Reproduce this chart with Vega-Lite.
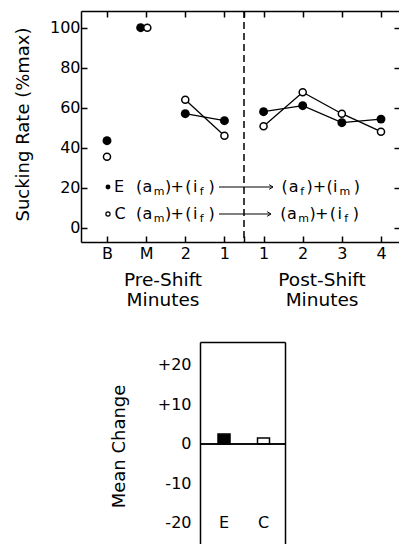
{
  "$schema": "https://vega.github.io/schema/vega-lite/v6.json",
  "padding": {"left": 13, "top": 10, "right": 0, "bottom": 0},
  "bounds": "flush",
  "spacing": 100,
  "config": {
    "font": "DejaVu Sans",
    "view": {"stroke": null},
    "axis": {
      "grid": false,
      "labelFont": "DejaVu Sans",
      "labelFontSize": 16,
      "labelColor": "black",
      "titleFont": "DejaVu Sans",
      "titleFontSize": 18,
      "titleFontWeight": "normal",
      "titleColor": "black",
      "domainColor": "black",
      "domainWidth": 1.5,
      "tickColor": "black",
      "tickWidth": 1.5,
      "labelOverlap": false,
      "labelFlush": false
    }
  },
  "datasets": {
    "main": [
      {"g": "E", "pos": 1, "v": 43.5, "ph": "B"},
      {"g": "E", "pos": 1.86, "v": 100, "ph": "M"},
      {"g": "E", "pos": 3, "v": 57, "ph": "pre"},
      {"g": "E", "pos": 4, "v": 53.5, "ph": "pre"},
      {"g": "E", "pos": 5, "v": 58, "ph": "post"},
      {"g": "E", "pos": 6, "v": 61, "ph": "post"},
      {"g": "E", "pos": 7, "v": 52.5, "ph": "post"},
      {"g": "E", "pos": 8, "v": 54.3, "ph": "post"},
      {"g": "C", "pos": 1, "v": 35.5, "ph": "B"},
      {"g": "C", "pos": 2.03, "v": 100, "ph": "M"},
      {"g": "C", "pos": 3, "v": 64, "ph": "pre"},
      {"g": "C", "pos": 4, "v": 46, "ph": "pre"},
      {"g": "C", "pos": 5, "v": 50.7, "ph": "post"},
      {"g": "C", "pos": 6, "v": 67.7, "ph": "post"},
      {"g": "C", "pos": 7, "v": 57, "ph": "post"},
      {"g": "C", "pos": 8, "v": 48, "ph": "post"}
    ],
    "bullets": [
      {"g": "E", "x": 1.025, "y": 20.35},
      {"g": "C", "x": 1.025, "y": 6.85}
    ],
    "glyphs": [
      {"x": 1.307, "y": 20.35, "t": "E", "sub": false},
      {"x": 1.818, "y": 20.35, "t": "(", "sub": false},
      {"x": 2.035, "y": 20.35, "t": "a", "sub": false},
      {"x": 2.331, "y": 20.35, "t": "m", "sub": true},
      {"x": 2.564, "y": 20.35, "t": ")", "sub": false},
      {"x": 2.796, "y": 20.35, "t": "+", "sub": false},
      {"x": 3.08, "y": 20.35, "t": "(", "sub": false},
      {"x": 3.253, "y": 20.35, "t": "i", "sub": false},
      {"x": 3.417, "y": 20.35, "t": "f", "sub": true},
      {"x": 3.67, "y": 20.35, "t": ")", "sub": false},
      {"x": 5.535, "y": 20.35, "t": "(", "sub": false},
      {"x": 5.77, "y": 20.35, "t": "a", "sub": false},
      {"x": 5.985, "y": 20.35, "t": "f", "sub": true},
      {"x": 6.174, "y": 20.35, "t": ")", "sub": false},
      {"x": 6.427, "y": 20.35, "t": "+", "sub": false},
      {"x": 6.687, "y": 20.35, "t": "(", "sub": false},
      {"x": 6.828, "y": 20.35, "t": "i", "sub": false},
      {"x": 7.08, "y": 20.35, "t": "m", "sub": true},
      {"x": 7.387, "y": 20.35, "t": ")", "sub": false},
      {"x": 1.332, "y": 6.85, "t": "C", "sub": false},
      {"x": 1.818, "y": 6.85, "t": "(", "sub": false},
      {"x": 2.035, "y": 6.85, "t": "a", "sub": false},
      {"x": 2.331, "y": 6.85, "t": "m", "sub": true},
      {"x": 2.564, "y": 6.85, "t": ")", "sub": false},
      {"x": 2.796, "y": 6.85, "t": "+", "sub": false},
      {"x": 3.08, "y": 6.85, "t": "(", "sub": false},
      {"x": 3.253, "y": 6.85, "t": "i", "sub": false},
      {"x": 3.417, "y": 6.85, "t": "f", "sub": true},
      {"x": 3.67, "y": 6.85, "t": ")", "sub": false},
      {"x": 5.509, "y": 6.85, "t": "(", "sub": false},
      {"x": 5.727, "y": 6.85, "t": "a", "sub": false},
      {"x": 6.023, "y": 6.85, "t": "m", "sub": true},
      {"x": 6.255, "y": 6.85, "t": ")", "sub": false},
      {"x": 6.488, "y": 6.85, "t": "+", "sub": false},
      {"x": 6.771, "y": 6.85, "t": "(", "sub": false},
      {"x": 6.945, "y": 6.85, "t": "i", "sub": false},
      {"x": 7.109, "y": 6.85, "t": "f", "sub": true},
      {"x": 7.36, "y": 6.85, "t": ")", "sub": false}
    ],
    "arrows": [
      {"x1": 3.862, "x2": 5.241, "y": 20.35},
      {"x1": 3.862, "x2": 5.19, "y": 6.85}
    ],
    "groups": [
      {"x": 2.431, "y": -25.9, "t": "Pre-Shift"},
      {"x": 2.431, "y": -36.1, "t": "Minutes"},
      {"x": 6.494, "y": -25.9, "t": "Post-Shift"},
      {"x": 6.494, "y": -36.1, "t": "Minutes"}
    ],
    "shift": [
      {"at": 4.5}
    ],
    "bars": [
      {"g": "E", "v": 2.5},
      {"g": "C", "v": 1.5}
    ]
  },
  "vconcat": [
    {
      "width": 318,
      "height": 231,
      "resolve": {"axis": {"x": "independent", "y": "independent"}},
      "layer": [
        {
          "data": {"name": "main"},
          "transform": [{"filter": "datum.ph == 'pre' || datum.ph == 'post'"}],
          "mark": {"type": "line", "color": "black", "strokeWidth": 1.3},
          "encoding": {
            "x": {"field": "pos", "type": "quantitative",
              "scale": {"domain": [0.336, 8.46], "nice": false, "zero": false},
              "axis": {"orient": "bottom", "values": [1, 2, 3, 4, 4.5, 5, 6, 7, 8],
                "labelExpr": "datum.value == 4.5 ? '' : ['B','M','2','1','1','2','3','4'][datum.value - 1]",
                "tickSize": -6, "labelPadding": 9.5, "labelAngle": 0, "title": null}},
            "y": {"field": "v", "type": "quantitative",
              "scale": {"domain": [-7.15, 108.35], "nice": false, "zero": false},
              "axis": {"orient": "left", "values": [0, 20, 40, 60, 80, 100],
                "tickSize": -6, "labelPadding": 7,
                "title": "Sucking Rate (%max)", "titleX": -58, "titleY": 113,
                "titleBaseline": "middle", "titleAlign": "center"}},
            "detail": [{"field": "g"}, {"field": "ph"}]
          }
        },
        {
          "data": {"name": "shift"},
          "mark": {"type": "rule", "color": "black", "strokeWidth": 1.5, "strokeDash": [7, 4]},
          "encoding": {
            "x": {"field": "at", "type": "quantitative",
              "scale": {"domain": [0.336, 8.46], "nice": false, "zero": false}, "axis": null}
          }
        },
        {
          "data": {"name": "main"},
          "transform": [{"filter": "datum.g == 'E'"}],
          "mark": {"type": "point", "shape": "circle", "filled": true, "color": "black", "size": 80, "opacity": 1},
          "encoding": {
            "x": {"field": "pos", "type": "quantitative",
              "scale": {"domain": [0.336, 8.46], "nice": false, "zero": false}, "axis": null},
            "y": {"field": "v", "type": "quantitative",
              "scale": {"domain": [-7.15, 108.35], "nice": false, "zero": false}, "axis": null}
          }
        },
        {
          "data": {"name": "main"},
          "transform": [{"filter": "datum.g == 'C'"}],
          "mark": {"type": "point", "shape": "circle", "filled": true, "fill": "white", "stroke": "black", "strokeWidth": 1.5, "size": 50, "opacity": 1},
          "encoding": {
            "x": {"field": "pos", "type": "quantitative",
              "scale": {"domain": [0.336, 8.46], "nice": false, "zero": false},
              "axis": {"orient": "top", "values": [1, 2, 3, 4, 4.5, 5, 6, 7, 8],
                "labels": false, "tickSize": -6, "title": null}},
            "y": {"field": "v", "type": "quantitative",
              "scale": {"domain": [-7.15, 108.35], "nice": false, "zero": false},
              "axis": {"orient": "right", "values": [0, 20, 40, 60, 80, 100],
                "labels": false, "tickSize": -5, "domain": false, "title": null}}
          }
        },
        {
          "data": {"name": "bullets"},
          "transform": [{"filter": "datum.g == 'E'"}],
          "mark": {"type": "point", "shape": "circle", "filled": true, "color": "black", "size": 24, "opacity": 1},
          "encoding": {
            "x": {"field": "x", "type": "quantitative", "axis": null},
            "y": {"field": "y", "type": "quantitative", "axis": null}
          }
        },
        {
          "data": {"name": "bullets"},
          "transform": [{"filter": "datum.g == 'C'"}],
          "mark": {"type": "point", "shape": "circle", "filled": true, "fill": "white", "stroke": "black", "strokeWidth": 1.2, "size": 18, "opacity": 1},
          "encoding": {
            "x": {"field": "x", "type": "quantitative", "axis": null},
            "y": {"field": "y", "type": "quantitative", "axis": null}
          }
        },
        {
          "data": {"name": "glyphs"},
          "transform": [{"filter": "!datum.sub"}],
          "mark": {"type": "text", "fontSize": 16, "color": "black", "align": "center", "baseline": "middle"},
          "encoding": {
            "x": {"field": "x", "type": "quantitative", "axis": null},
            "y": {"field": "y", "type": "quantitative", "axis": null},
            "text": {"field": "t"}
          }
        },
        {
          "data": {"name": "glyphs"},
          "transform": [{"filter": "datum.sub"}],
          "mark": {"type": "text", "fontSize": 11, "color": "black", "align": "center", "baseline": "middle", "dy": 5},
          "encoding": {
            "x": {"field": "x", "type": "quantitative", "axis": null},
            "y": {"field": "y", "type": "quantitative", "axis": null},
            "text": {"field": "t"}
          }
        },
        {
          "data": {"name": "arrows"},
          "mark": {"type": "rule", "color": "black", "strokeWidth": 1},
          "encoding": {
            "x": {"field": "x1", "type": "quantitative", "axis": null},
            "x2": {"field": "x2"},
            "y": {"field": "y", "type": "quantitative", "axis": null}
          }
        },
        {
          "data": {"name": "arrows"},
          "mark": {"type": "point", "shape": "M-1,-0.6L0,0L-1,0.6", "filled": false, "stroke": "black", "strokeWidth": 1, "size": 60, "opacity": 1},
          "encoding": {
            "x": {"field": "x2", "type": "quantitative", "axis": null},
            "y": {"field": "y", "type": "quantitative", "axis": null}
          }
        },
        {
          "data": {"name": "groups"},
          "mark": {"type": "text", "fontSize": 18.5, "color": "black", "align": "center", "baseline": "middle"},
          "encoding": {
            "x": {"field": "x", "type": "quantitative", "axis": null},
            "y": {"field": "y", "type": "quantitative", "axis": null},
            "text": {"field": "t"}
          }
        }
      ]
    },
    {
      "bounds": "flush",
      "spacing": 0,
      "hconcat": [
        {
          "width": 119,
          "height": 202,
          "data": {"values": []},
          "mark": "point",
          "encoding": {}
        },
        {
          "width": 85,
          "height": 202,
          "data": {"name": "bars"},
          "resolve": {"axis": {"x": "independent", "y": "independent"}},
          "layer": [
            {
              "mark": {"type": "bar", "width": 12, "stroke": "black", "strokeWidth": 1.5},
              "encoding": {
                "x": {"field": "g", "type": "nominal", "sort": ["E", "C"],
                  "scale": {"paddingInner": 0, "paddingOuter": 0.076, "align": 0.71},
                  "axis": {"orient": "top", "ticks": false, "labels": false, "domain": true, "title": null}},
                "y": {"field": "v", "type": "quantitative",
                  "scale": {"domain": [-25.32, 25.82], "nice": false, "zero": false},
                  "axis": {"orient": "left", "values": [-20, -10, 0, 10, 20],
                    "labelExpr": "(datum.value > 0 ? '+' : '') + datum.value",
                    "ticks": false, "labelPadding": 9, "domain": true,
                    "title": "Mean Change", "titleX": -81, "titleY": 104,
                    "titleBaseline": "middle", "titleAlign": "center"}},
                "fill": {"field": "g", "type": "nominal",
                  "scale": {"domain": ["E", "C"], "range": ["black", "white"]}, "legend": null}
              }
            },
            {
              "mark": {"type": "rule", "color": "black", "strokeWidth": 1.5},
              "encoding": {
                "y": {"datum": 0, "type": "quantitative",
                  "scale": {"domain": [-25.32, 25.82], "nice": false, "zero": false},
                  "axis": {"orient": "right", "ticks": false, "labels": false, "domain": true, "title": null}}
              }
            },
            {
              "mark": {"type": "text", "fontSize": 16, "color": "black", "align": "center", "baseline": "middle"},
              "encoding": {
                "x": {"field": "g", "type": "nominal", "sort": ["E", "C"], "axis": null},
                "y": {"datum": -20, "type": "quantitative", "axis": null},
                "text": {"field": "g"}
              }
            }
          ]
        }
      ]
    }
  ]
}
